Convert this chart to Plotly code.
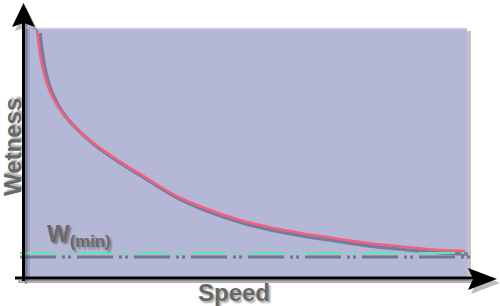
import plotly.graph_objects as go

# ---- data (speed 0..100, wetness 0..100) ----
speed = [2.93, 3.39, 4.06, 5.19, 6.77, 8.80, 11.74, 15.35, 19.41, 23.25, 26.19,
         33.63, 41.31, 48.76, 56.21, 62.30, 69.75, 77.43, 84.88, 92.33, 99.55]
wetness = [99.2, 92.4, 85.1, 77.5, 71.1, 65.5, 59.8, 54.2, 49.0, 44.6, 41.4,
           33.3, 27.3, 22.9, 19.7, 17.7, 15.7, 13.7, 12.3, 11.0, 10.4]
w_min = 9.6
min_span = [-0.9, 100.0]
x_label = "Speed"
y_label = "Wetness"
min_label = "W<sub>(min)</sub>"

W, H = 500, 306
SX, SY = 4.43, 2.49          # px per unit
X0 = -24 / SX
X1 = X0 + W / SX
YT = 277 / SY
YB = YT - H / SY


def px(x):
    return x / W


def py(y):
    return 1 - y / H


def path(pts):
    return "M " + " L ".join(f"{px(a):.5f},{py(b):.5f}" for a, b in pts) + " Z"


shapes = []
# plot area background with shadow
shapes.append(dict(type="rect", xref="paper", yref="paper", x0=px(26), x1=px(471), y0=py(281), y1=py(31),
                   fillcolor="rgba(80,80,90,0.35)", line_width=0, layer="below"))
shapes.append(dict(type="rect", xref="paper", yref="paper", x0=px(24), x1=px(467), y0=py(277), y1=py(28),
                   fillcolor="#b5b7d7", line_width=0, layer="below"))
shapes.append(dict(type="line", xref="paper", yref="paper", x0=px(25), x1=px(467), y0=py(28.5), y1=py(28.5),
                   line=dict(color="#d0d2e8", width=1.5), layer="below"))
# shadow of y axis on area
shapes.append(dict(type="rect", xref="paper", yref="paper", x0=px(25), x1=px(30), y0=py(280), y1=py(28),
                   fillcolor="rgba(110,112,160,0.35)", line_width=0, layer="below"))
# axis shadows
shapes.append(dict(type="line", xref="paper", yref="paper", x0=px(26), x1=px(26), y0=py(284), y1=py(24),
                   line=dict(color="rgba(60,60,70,0.35)", width=3)))
shapes.append(dict(type="line", xref="paper", yref="paper", x0=px(18), x1=px(472), y0=py(281.5), y1=py(281.5),
                   line=dict(color="rgba(60,60,70,0.4)", width=3)))
shapes.append(dict(type="path", xref="paper", yref="paper",
                   path=path([(26, 7), (38, 31), (26, 27), (15, 31)]),
                   fillcolor="rgba(60,60,70,0.35)", line_width=0))
shapes.append(dict(type="path", xref="paper", yref="paper",
                   path=path([(500, 283), (471, 272), (476, 283), (471, 294)]),
                   fillcolor="rgba(60,60,70,0.35)", line_width=0))
# axes
shapes.append(dict(type="line", xref="paper", yref="paper", x0=px(23.5), x1=px(23.5), y0=py(281), y1=py(20),
                   line=dict(color="black", width=3)))
shapes.append(dict(type="line", xref="paper", yref="paper", x0=px(15), x1=px(475), y0=py(278), y1=py(278),
                   line=dict(color="black", width=3)))
shapes.append(dict(type="path", xref="paper", yref="paper",
                   path=path([(23.5, 3), (35, 27), (23.5, 23), (12, 27)]),
                   fillcolor="black", line_width=0))
shapes.append(dict(type="path", xref="paper", yref="paper",
                   path=path([(497, 279), (468, 268), (473, 279), (468, 290)]),
                   fillcolor="black", line_width=0))

dash = "36px,6px,3px,3px,3px,6px"
dx, dy = 3 / SX, -3 / SY

fig = go.Figure()
# shadows
fig.add_trace(go.Scatter(x=[s + dx for s in speed], y=[v + dy for v in wetness], mode="lines",
                         line=dict(color="rgba(70,72,110,0.55)", width=3.5, shape="spline", smoothing=1.0),
                         hoverinfo="skip"))
fig.add_trace(go.Scatter(x=[min_span[0], min_span[1] + 0.7], y=[w_min - 4 / SY] * 2, mode="lines",
                         line=dict(color="rgba(70,72,100,0.6)", width=3, dash=dash), hoverinfo="skip"))
# lines
fig.add_trace(go.Scatter(x=min_span, y=[w_min] * 2, mode="lines",
                         line=dict(color="#5de8ad", width=2, dash=dash), hoverinfo="skip"))
fig.add_trace(go.Scatter(x=speed, y=wetness, mode="lines",
                         line=dict(color="#f2607c", width=2.5, shape="spline", smoothing=1.0),
                         hoverinfo="skip"))

shadow = "2px 2px 2px rgba(0,0,0,0.35)"
annotations = [
    dict(text=y_label, xref="paper", yref="paper", x=px(12), y=py(147), textangle=-90, showarrow=False,
         xanchor="center", yanchor="middle",
         font=dict(family="Liberation Sans, Arial", size=24, color="#686868", weight="bold", shadow=shadow)),
    dict(text=x_label, xref="paper", yref="paper", x=px(234), y=py(292), showarrow=False,
         xanchor="center", yanchor="middle",
         font=dict(family="Liberation Sans, Arial", size=24, color="#686868", weight="bold", shadow=shadow)),
    dict(text=min_label, xref="paper", yref="paper", x=px(45), y=py(253), showarrow=False,
         xanchor="left", yanchor="bottom",
         font=dict(family="Liberation Sans, Arial", size=24, color="#6a6a6a", weight="bold", shadow=shadow)),
]

fig.update_layout(
    width=W, height=H, margin=dict(l=0, r=0, t=0, b=0),
    paper_bgcolor="white", plot_bgcolor="rgba(0,0,0,0)",
    showlegend=False, shapes=shapes, annotations=annotations,
    xaxis=dict(range=[X0, X1], visible=False, fixedrange=True),
    yaxis=dict(range=[YB, YT], visible=False, fixedrange=True),
)
fig.write_html("out.html", config={"displayModeBar": False})
